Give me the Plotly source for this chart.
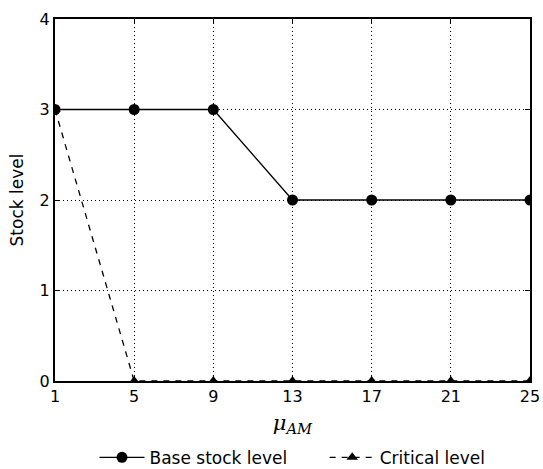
import plotly.graph_objects as go

x_vals = [1, 5, 9, 13, 17, 21, 25]
base_stock = [3, 3, 3, 2, 2, 2, 2]
critical = [3, 0, 0, 0, 0, 0, 0]
x_ticks = [1, 5, 9, 13, 17, 21, 25]
y_ticks = [0, 1, 2, 3, 4]

fig = go.Figure()
fig.add_trace(go.Scatter(x=x_vals, y=base_stock, mode="lines+markers",
                         name="Base stock level" + "\u00a0" * 6,
                         line=dict(color="black", width=1.3),
                         marker=dict(symbol="circle", size=11, color="black")))
fig.add_trace(go.Scatter(x=x_vals, y=critical, mode="lines+markers", name="Critical level",
                         line=dict(color="black", width=1.3, dash="6px,6px"),
                         marker=dict(symbol="triangle-up", size=10, color="black")))

axis_common = dict(showline=True, linecolor="black", linewidth=2, mirror="ticks",
                   ticks="inside", ticklen=5, tickcolor="black",
                   showgrid=True, gridcolor="black", griddash="1px,3px", gridwidth=1,
                   zeroline=False, automargin=False, tickfont=dict(size=16, color="black"))
fig.update_xaxes(range=[1, 25], tickvals=x_ticks, **axis_common,
                 title=dict(text="<i>μ</i><sub><i>AM</i></sub>",
                            font=dict(family="DejaVu Serif", size=21, color="black"), standoff=10))
fig.update_yaxes(range=[0, 4], tickvals=y_ticks, **axis_common,
                 title=dict(text="Stock level", font=dict(size=17, color="black"), standoff=12))
fig.update_layout(width=543, height=469, plot_bgcolor="white", paper_bgcolor="white",
                  font=dict(family="DejaVu Sans", color="black"),
                  margin=dict(l=55, r=13, t=19, b=88, autoexpand=False),
                  legend=dict(orientation="h", x=0.5, xanchor="center", y=-0.212, yanchor="middle",
                              font=dict(size=17), itemwidth=45))
fig.write_html("out.html", config={"displayModeBar": False},
               post_script="document.body.style.margin='0';document.body.style.overflow='hidden';")
